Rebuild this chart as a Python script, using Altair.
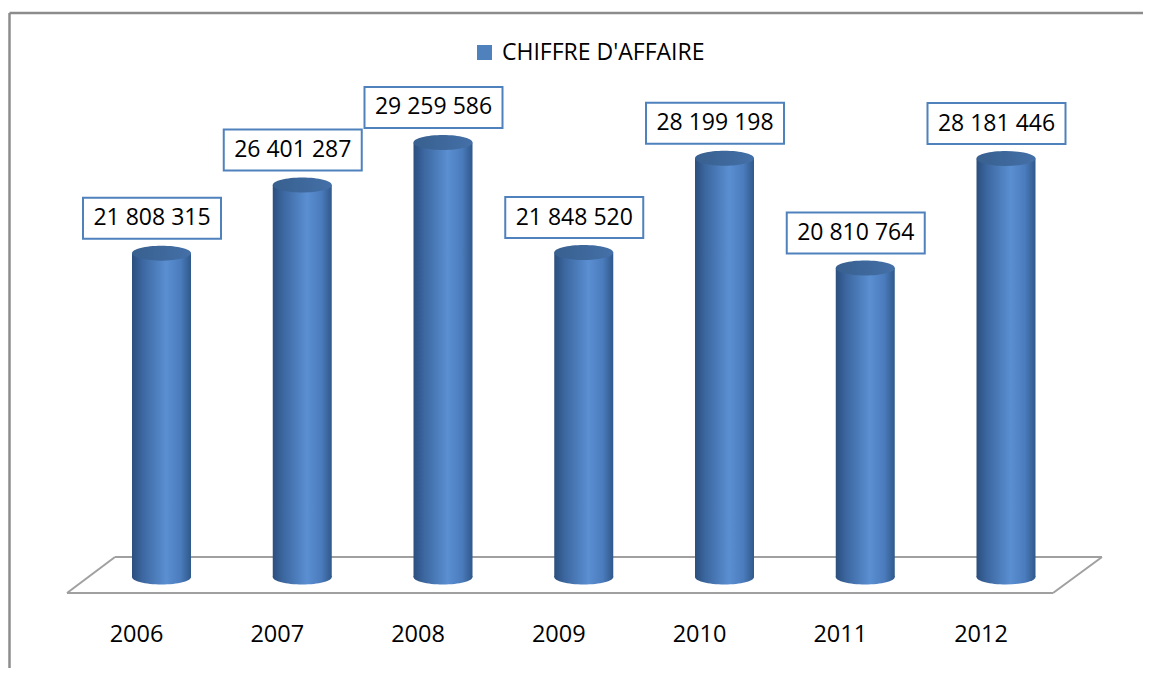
import altair as alt
import pandas as pd

years = ["2006", "2007", "2008", "2009", "2010", "2011", "2012"]
values = [21808315, 26401287, 29259586, 21848520, 28199198, 20810764, 28181446]
series_name = "CHIFFRE D'AFFAIRE"

labels = [f"{v:,}".replace(",", " ") for v in values]
df = pd.DataFrame({"year": years, "value": values, "zero": [0] * len(years),
                   "label": labels, "series": [series_name] * len(years)})

W, H = 1135, 660
FONT = "Open Sans"

x_scale = alt.Scale(type="point", domain=years, range=[153.5, 998], padding=0)
y_scale = alt.Scale(domain=[0, 30000000], range=[569, 123.5], nice=False)

X = alt.X("year:N", scale=x_scale, axis=None)

side_grad = alt.Gradient(
    gradient="linear", x1=0, x2=1, y1=0, y2=0,
    stops=[alt.GradientStop(color="#2b4f7e", offset=0),
           alt.GradientStop(color="#3c67a0", offset=0.18),
           alt.GradientStop(color="#5a8fd2", offset=0.58),
           alt.GradientStop(color="#4b7cbd", offset=0.82),
           alt.GradientStop(color="#30598b", offset=1)])
top_grad = alt.Gradient(
    gradient="linear", x1=0, x2=1, y1=0, y2=0,
    stops=[alt.GradientStop(color="#38608f", offset=0),
           alt.GradientStop(color="#4470a8", offset=1)])

k = 0.5523
ry = 0.254
ell = (f"M -1 0 C -1 {-ry*k:.4f} {-k} {-ry} 0 {-ry} C {k} {-ry} 1 {-ry*k:.4f} 1 0 "
       f"C 1 {ry*k:.4f} {k} {ry} 0 {ry} C {-k} {ry} -1 {ry*k:.4f} -1 0 Z")
box = "M -1 -0.297 L 1 -0.297 L 1 0.297 L -1 0.297 Z"

base = alt.Chart(df)

bottom = base.mark_point(shape=ell, size=59 * 59, filled=True, fill=side_grad,
                         opacity=1, strokeWidth=0).encode(
    x=X, y=alt.Y("zero:Q", scale=y_scale, axis=None))

bars = base.mark_bar(size=59, fill=side_grad, strokeWidth=0).encode(
    x=X, y=alt.Y("value:Q", scale=y_scale, axis=None))

tops = base.mark_point(shape=ell, size=59 * 59, filled=True, fill=top_grad,
                       opacity=1, strokeWidth=0).encode(
    x=X, y=alt.Y("value:Q", scale=y_scale, axis=None))

boxes = base.mark_point(shape=box, size=138 * 138, filled=False, fill="white",
                        fillOpacity=1, opacity=1, stroke="#4F81BD", strokeWidth=2,
                        xOffset=-9.5, yOffset=-35).encode(
    x=X, y=alt.Y("value:Q", scale=y_scale, axis=None))

texts = base.mark_text(font=FONT, fontSize=23, color="black", dx=-9.5, dy=-35,
                       baseline="middle", align="center").encode(
    x=X, y=alt.Y("value:Q", scale=y_scale, axis=None), text="label:N")

year_labels = base.mark_text(font=FONT, fontSize=23.5, color="black", dx=-25,
                             baseline="middle", align="center").encode(
    x=X, y=alt.value(627), text="year:N")

legend_layer = base.mark_point(filled=True, opacity=0, shape="square").encode(
    x=X, y=alt.Y("value:Q", scale=y_scale, axis=None),
    color=alt.Color("series:N", scale=alt.Scale(range=["#4F81BD"]),
                    legend=alt.Legend(title=None, orient="none", legendX=465, legendY=33,
                                      symbolType="square", symbolSize=225,
                                      symbolOpacity=1, symbolStrokeWidth=0,
                                      labelFont=FONT, labelFontSize=23,
                                      labelColor="black", labelOffset=6,
                                      labelLimit=600, padding=0)))

one = pd.DataFrame({"a": [0]})


def seg(x1, y1, x2, y2, color, width):
    return alt.Chart(one).mark_rule(color=color, strokeWidth=width).encode(
        x=alt.value(x1), y=alt.value(y1), x2=alt.value(x2), y2=alt.value(y2))


floor_c = "#a0a0a0"
floor = [
    seg(107, 549, 1094, 549, floor_c, 2),
    seg(1094, 549, 1045, 585, floor_c, 2),
    seg(1045, 585, 59, 585, floor_c, 2),
    seg(59, 585, 107, 549, floor_c, 2),
]
frame = [
    seg(1.5, 5, 1.5, H, "#8c8c8c", 2.5),
    seg(1.5, 5, W, 5, "#8c8c8c", 2.5),
]

chart = alt.layer(
    *frame, *floor, bottom, bars, tops, boxes, texts, year_labels, legend_layer
).properties(
    width=W, height=H, padding=0,
    autosize=alt.AutoSizeParams(type="none"),
    background="white",
).configure_view(stroke=None)

chart.save("out.html", embed_options={"renderer": "svg", "actions": False})
